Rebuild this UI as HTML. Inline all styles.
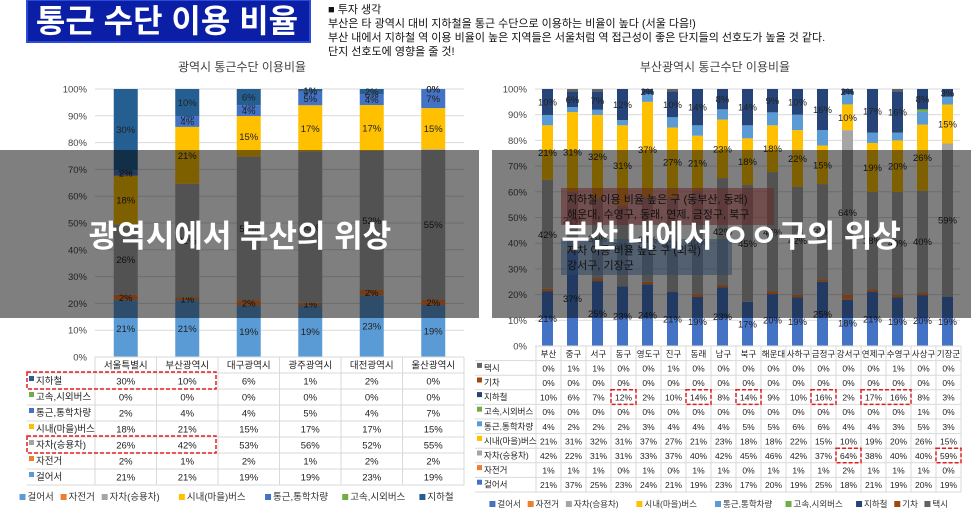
<!DOCTYPE html>
<html><head><meta charset="utf-8">
<style>
html,body{margin:0;padding:0;background:#fff;}
svg{display:block;font-family:"Liberation Sans","Noto Sans CJK KR",sans-serif;}
</style></head>
<body>
<svg id="root" width="971" height="524" viewBox="0 0 971 524">
  <rect x="27" y="0" width="283" height="42" fill="#0a1fa6" stroke="#2b4bd8" stroke-width="2"/>
  <text x="167" y="32" text-anchor="middle" fill="#fff" font-size="32" font-weight="bold">통근 수단 이용 비율</text>
  <g font-size="11" fill="#111">
    <text x="328" y="13">■ 투자 생각</text>
    <text x="328" y="27">부산은 타 광역시 대비 지하철을 통근 수단으로 이용하는 비율이 높다 (서울 다음!)</text>
    <text x="328" y="41">부산 내에서 지하철 역 이용 비율이 높은 지역들은 서울처럼 역 접근성이 좋은 단지들의 선호도가 높을 것 같다.</text>
    <text x="328" y="55">단지 선호도에 영향을 줄 것!</text>
  </g>
  <g id="left"></g>
  <g id="right"></g>
  <g id="overlay"></g>
</svg>
<script>
// ---- Left chart data ----
const cityNames = ["서울특별시","부산광역시","대구광역시","광주광역시","대전광역시","울산광역시"];
const leftSeries = ["걸어서","자전거","자차(승용차)","시내(마을)버스","통근,통학차량","고속,시외버스","지하철"];
const leftColors = ["#5b9bd5","#ed7d31","#a5a5a5","#ffc000","#4472c4","#70ad47","#255e91"];
const leftWalk = [21,21,19,19,23,19];
const leftBike = [2,1,2,1,2,2];
const leftCar = [26,42,53,56,52,55];
const leftBus = [18,21,15,17,17,15];
const leftCommute = [2,4,4,5,4,7];
const leftExpress = [0,0,0,0,0,0];
const leftSubway = [30,10,6,1,2,0];
const leftValues = [leftWalk,leftBike,leftCar,leftBus,leftCommute,leftExpress,leftSubway];
const leftTicks = ["0%","10%","20%","30%","40%","50%","60%","70%","80%","90%","100%"];

// ---- Right chart data ----
const guNames = ["부산","중구","서구","동구","영도구","진구","동래","남구","북구","해운대","사하구","금정구","강서구","연제구","수영구","사상구","기장군"];
const rightSeries = ["걸어서","자전거","자차(승용차)","시내(마을)버스","통근,통학차량","고속,시외버스","지하철","기차","택시"];
const rightColors = ["#4472c4","#ed7d31","#a5a5a5","#ffc000","#5b9bd5","#70ad47","#264478","#9e480e","#636363"];
const rWalk = [21,37,25,23,24,21,19,23,17,20,19,25,18,21,19,20,19];
const rBike = [1,1,1,0,1,0,1,1,0,1,1,1,2,1,1,1,0];
const rCar = [42,22,31,31,33,37,40,42,45,46,42,37,64,38,40,40,59];
const rBus = [21,31,32,31,37,27,21,23,18,18,22,15,10,19,20,26,15];
const rCommute = [4,2,2,2,3,4,4,4,5,5,6,6,4,4,3,5,3];
const rExpress = [0,0,0,0,0,0,0,0,0,0,0,0,0,0,0,1,0];
const rSubway = [10,6,7,12,2,10,14,8,14,9,10,16,2,17,16,8,3];
const rTrain = [0,0,0,0,0,0,0,0,0,0,0,0,0,0,0,0,0];
const rTaxi = [0,1,1,0,0,1,0,0,0,0,0,0,0,0,1,0,0];
const rightValues = [rWalk,rBike,rCar,rBus,rCommute,rExpress,rSubway,rTrain,rTaxi];
const rightLabelSeries = [0,2,3,6];

const NS = "http://www.w3.org/2000/svg";
function mk(parent, tag, attrs, txt){
  const e = document.createElementNS(NS, tag);
  for (const k in attrs) e.setAttribute(k, attrs[k]);
  if (txt !== undefined) e.textContent = txt;
  parent.appendChild(e);
  return e;
}

function drawChart(g, cfg){
  const {x0,x1,yTop,yBot,cats,series,colors,values,barW,labelSeries,title,titleX,tickX} = cfg;
  const yScale = v => yBot - (yBot - yTop) * v / 100;
  const band = (x1 - x0) / cats.length;
  const xCenter = i => x0 + band * (i + 0.5);
  const t = mk(g,'text',{x:titleX,y:yTop-18,'text-anchor':'middle','font-size':12,fill:'#444'},title);
  
  
  leftTicks.forEach((lab,k)=>{
    const y = yScale(k*10);
    const gl = mk(g,'line',{x1:x0,x2:x1,y1:y,y2:y,stroke:'#d9d9d9','stroke-width':1});
    
    
    const tl = mk(g,'text',{x:tickX,y:y+3.5,'text-anchor':'end','font-size':9.5,fill:'#444'},lab);
    
    
  });
  cats.forEach((c,i)=>{
    let total = 0;
    values.forEach(s=>total+=s[i]);
    let acc = 0;
    values.forEach((s,si)=>{
      const v = s[i] / total * 100;
      const yA = yScale(acc), yB = yScale(acc+v);
      const r = mk(g,'rect',{x:xCenter(i)-barW/2,y:yB,width:barW,height:Math.max(0,yA-yB),fill:colors[si]});
      
      
      if (!labelSeries || labelSeries.includes(si)){
        const lt = mk(g,'text',{x:xCenter(i),y:(yA+yB)/2+3.5,'text-anchor':'middle','font-size':9.5,fill:'#222'},s[i]+'%');
        
        
      }
      acc += v;
    });
  });
}

function drawTable(g, cfg){
  const {x0,y0,firstW,colW,rowH,cats,series,colors,values,fs} = cfg;
  const n = cats.length;
  const rows = series.length;
  const right = x0 + firstW + colW*n;
  const bottom = y0 + rowH*(rows+1);
  for (let r=0;r<=rows+1;r++){
    const y = y0 + r*rowH;
    const l = mk(g,'line',{x1: r===0? x0+firstW : x0, x2:right, y1:y, y2:y, stroke:'#d9d9d9'});
    
    
  }
  for (let c=0;c<=n;c++){
    const x = x0 + firstW + c*colW;
    const l = mk(g,'line',{x1:x,x2:x,y1:y0,y2:bottom,stroke:'#d9d9d9'});
    
    
  }
  cats.forEach((c,i)=>{
    const t = mk(g,'text',{x:x0+firstW+colW*(i+0.5),y:y0+rowH/2+3.5,'text-anchor':'middle','font-size':fs,fill:'#222'},c);
    
    
  });
  for (let r=0;r<rows;r++){
    const si = rows-1-r;
    const yc = y0 + rowH*(r+1.5);
    const sw = mk(g,'rect',{x:x0+2,y:yc-5,width:5,height:5,fill:colors[si]});
    
    
    const nt = mk(g,'text',{x:x0+9,y:yc+3,'font-size':fs,fill:'#222'},series[si]);
    
    
    cats.forEach((c,i)=>{
      const vt = mk(g,'text',{x:x0+firstW+colW*(i+0.5),y:yc+3.5,'text-anchor':'middle','font-size':fs,fill:'#222'},values[si][i]+'%');
      
      
    });
  }
}

function drawLegend(g, cx, y, series, colors, fs){
  const widths = series.map(s=>s.length*fs*0.95+14);
  const total = widths.reduce((a,b)=>a+b,0);
  let x = cx - total/2;
  series.forEach((s,i)=>{
    const gi = mk(g,'g',{});
    
    
    mk(gi,'rect',{x:x,y:y-6,width:6,height:6,fill:colors[i]});
    mk(gi,'text',{x:x+8,y:y,'font-size':fs,fill:'#333'},s);
    x += widths[i];
  });
}

function dashBox(g,x,y,w,h){
  const r = mk(g,'rect',{x:x,y:y,width:w,height:h,fill:'none',stroke:'#e02020','stroke-width':1.5,'stroke-dasharray':'4,2'});
  
  
}

const L = document.getElementById('left');


drawChart(L,{x0:95,x1:464,yTop:89,yBot:357,cats:cityNames,series:leftSeries,colors:leftColors,values:leftValues,barW:24,labelSeries:null,title:"광역시 통근수단 이용비율",titleX:242,tickX:87});
drawTable(L,{x0:27,y0:357,firstW:68,colW:61.5,rowH:16,cats:cityNames,series:leftSeries,colors:leftColors,values:leftValues,fs:9.5});
drawLegend(L,240,500,leftSeries,leftColors,9.5);
dashBox(L,27,372,189,17);
dashBox(L,27,436,189,17);

const R = document.getElementById('right');


drawChart(R,{x0:535,x1:960,yTop:89,yBot:346,cats:guNames,series:rightSeries,colors:rightColors,values:rightValues,barW:11,labelSeries:rightLabelSeries,title:"부산광역시 통근수단 이용비율",titleX:715,tickX:527});
drawTable(R,{x0:475,y0:346,firstW:61,colW:25,rowH:14.6,cats:guNames,series:rightSeries,colors:rightColors,values:rightValues,fs:8.5});
drawLegend(R,722,507,rightSeries,rightColors,8.5);
const subwayRowY = 346+14.6*3, carRowY = 346+14.6*7;
[[3,1],[6,1],[8,1],[11,1],[13,2]].forEach(([c,w])=>dashBox(R,536+25*c,subwayRowY,25*w,14.6));
[[12,1],[16,1]].forEach(([c,w])=>dashBox(R,536+25*c,carRowY,25*w,14.6));

// annotation boxes
const a1 = mk(R,'rect',{x:561,y:188,width:213,height:37,fill:'rgba(200,80,77,0.55)'});


mk(R,'text',{x:567,y:203,'font-size':11,fill:'#222'},"지하철 이용 비율 높은 구 (동부산, 동래)");
mk(R,'text',{x:567,y:218,'font-size':11,fill:'#222'},"해운대, 수영구, 동래, 연제, 금정구, 북구");
const a2 = mk(R,'rect',{x:561,y:239,width:171,height:36,fill:'rgba(90,140,200,0.55)'});


mk(R,'text',{x:567,y:254,'font-size':11,fill:'#222'},"자차 이용 비율 높은 구 (외곽)");
mk(R,'text',{x:567,y:269,'font-size':11,fill:'#222'},"강서구, 기장군");

// overlays
const O = document.getElementById('overlay');
const o1 = mk(O,'rect',{x:0,y:150,width:479,height:168,fill:'rgba(0,0,0,0.5)'});


const o2 = mk(O,'rect',{x:492,y:150,width:479,height:168,fill:'rgba(0,0,0,0.5)'});


const ot1 = mk(O,'text',{x:240,y:247,'text-anchor':'middle','font-size':31,'font-weight':'bold',fill:'#fff'},"광역시에서 부산의 위상");


const ot2 = mk(O,'text',{x:731,y:247,'text-anchor':'middle','font-size':31,'font-weight':'bold',fill:'#fff'},"부산 내에서 ㅇㅇ구의 위상");


</script>
</body></html>
